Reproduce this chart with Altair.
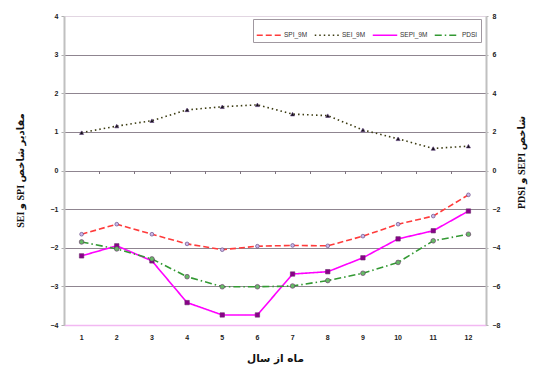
import altair as alt
import pandas as pd

months = list(range(1, 13))
series_names = ["SPI_9M", "SEI_9M", "SEPI_9M", "PDSI"]

# left axis series (SPI, SEI)
spi = [-1.65, -1.39, -1.65, -1.90, -2.05, -1.96, -1.94, -1.95, -1.70, -1.39, -1.18, -0.63]
sei = [0.98, 1.15, 1.29, 1.57, 1.65, 1.70, 1.46, 1.42, 1.05, 0.82, 0.57, 0.63]
# right axis series (SEPI, PDSI)
sepi = [-4.42, -3.90, -4.68, -6.84, -7.48, -7.48, -5.36, -5.24, -4.52, -3.54, -3.12, -2.10]
pdsi = [-3.70, -4.06, -4.58, -5.50, -6.02, -6.02, -5.98, -5.70, -5.32, -4.76, -3.64, -3.30]

line_colors = ["#ff3b3b", "#3a3a10", "#ff00ff", "#339933"]
dashes = [[6, 3], [1.5, 3], [1, 0], [7, 3, 1.5, 3]]
marker_fill = ["#c9b8e8", "#111111", "#8a008a", "#66bb66"]
marker_shape = ["circle", "triangle-up", "square", "circle"]
marker_size = [14, 22, 16, 14]

marker_names = ["m_" + s for s in series_names]

left_df = pd.DataFrame({
    "month": months * 2,
    "value": spi + sei,
    "series": ["SPI_9M"] * 12 + ["SEI_9M"] * 12,
})
right_df = pd.DataFrame({
    "month": months * 2,
    "value": sepi + pdsi,
    "series": ["SEPI_9M"] * 12 + ["PDSI"] * 12,
})
left_df["marker"] = "m_" + left_df["series"]
right_df["marker"] = "m_" + right_df["series"]

FONT = "Liberation Sans"
PFONT = "Liberation Serif, DejaVu Sans"


def xenc(axis):
    return alt.X(
        "month:O",
        sort=months,
        bandPosition=0.5,
        scale=alt.Scale(type="band", paddingInner=0, paddingOuter=0),
        axis=axis,
    )


x_main_axis = alt.Axis(
    title="ماه از سال",
    titleFont="DejaVu Sans", titleFontSize=10.5, titleFontWeight="bold", titleColor="#111",
    titleY=33, titleBaseline="middle",
    labelAngle=0, labelFont=FONT, labelFontSize=7, labelFontWeight="bold",
    labelColor="#222", labelPadding=8,
    ticks=False, domainColor="#f2b8f2", domainWidth=1.5, grid=False,
)
x_tick_axis = alt.Axis(
    orient="bottom", offset=-154.5, labels=False, domain=False, ticks=True,
    tickBand="extent", tickSize=3, tickWidth=1, tickColor="#7f7580", grid=False, title=None,
)

color_enc = alt.Color(
    "series:N",
    scale=alt.Scale(domain=series_names, range=line_colors),
    legend=alt.Legend(
        title=None, orient="none", legendX=189, legendY=3, direction="horizontal",
        columns=4, symbolType="stroke", symbolSize=600, symbolStrokeWidth=1.5,
        labelFont=FONT, labelFontSize=6.5, labelColor="#333", labelOffset=2,
        columnPadding=3, padding=3, strokeColor="#a098a0", fillColor="white",
        symbolOffset=0,
    ),
)
dash_enc = alt.StrokeDash(
    "series:N", scale=alt.Scale(domain=series_names, range=dashes), legend=None
)
fill_enc = alt.Fill(
    "marker:N", scale=alt.Scale(domain=marker_names, range=marker_fill), legend=None
)
shape_enc = alt.Shape(
    "marker:N", scale=alt.Scale(domain=marker_names, range=marker_shape), legend=None
)
size_enc = alt.Size(
    "marker:N", scale=alt.Scale(domain=marker_names, range=marker_size), legend=None
)

left_axis = alt.Axis(
    values=list(range(-4, 5)), format="d",
    title="\u202bمقادیر شاخص SPI و SEI\u202c",
    titleFont=PFONT, titleFontSize=10, titleFontWeight="bold", titleColor="#111",
    titleAngle=270, titleX=-44, titleY=154, titleAlign="center", titleBaseline="middle",
    labelFont=FONT, labelFontSize=7, labelFontWeight="bold", labelColor="#222",
    labelPadding=3,
    tickSize=3, tickColor="#b0b0b0", domainColor="#c0c0c0", domainWidth=2,
    grid=True,
    gridColor={"condition": {"test": "datum.value == 4", "value": "#e2d6e2"}, "value": "#8f8590"},
    gridWidth=1,
)
right_axis = alt.Axis(
    orient="right", values=list(range(-8, 9, 2)), format="d",
    title="\u202bشاخص SEPI و PDSI\u202c",
    titleFont=PFONT, titleFontSize=10, titleFontWeight="bold", titleColor="#111",
    titleAngle=270, titleX=35, titleY=146, titleAlign="center", titleBaseline="middle",
    labelFont=FONT, labelFontSize=7, labelFontWeight="bold", labelColor="#222",
    labelPadding=4,
    tickSize=2, tickColor="#b0b0b0", domainColor="#c0c0c0", domainWidth=2,
    grid=False,
)

yl = alt.Y("value:Q", scale=alt.Scale(domain=[-4, 4], nice=False, zero=False), axis=left_axis)
yr = alt.Y("value:Q", scale=alt.Scale(domain=[-8, 8], nice=False, zero=False), axis=right_axis)
yl_noaxis = alt.Y("value:Q", scale=alt.Scale(domain=[-4, 4], nice=False, zero=False), axis=None)
yr_noaxis = alt.Y("value:Q", scale=alt.Scale(domain=[-8, 8], nice=False, zero=False), axis=None)

left_lines = alt.Chart(left_df).mark_line(strokeWidth=1.6).encode(
    x=xenc(x_main_axis), y=yl, color=color_enc, strokeDash=dash_enc, detail="series:N"
)
left_pts = alt.Chart(left_df).mark_point(filled=True, opacity=1, strokeWidth=0.6).encode(
    x=xenc(x_tick_axis), y=yl_noaxis, fill=fill_enc, shape=shape_enc, size=size_enc,
    stroke=alt.value("#5a3a7a"),
)
right_lines = alt.Chart(right_df).mark_line(strokeWidth=1.6).encode(
    x=xenc(None), y=yr, color=color_enc, strokeDash=dash_enc, detail="series:N"
)
right_pts = alt.Chart(right_df).mark_point(filled=True, opacity=1, strokeWidth=0.6).encode(
    x=xenc(None), y=yr_noaxis, fill=fill_enc, shape=shape_enc, size=size_enc,
    stroke=alt.value("#6a2a6a"),
)

chart = (
    alt.layer(left_lines, left_pts, right_lines, right_pts)
    .resolve_scale(y="independent", x="independent")
    .resolve_axis(y="independent", x="independent")
    .properties(
        width=422, height=309,
        autosize=alt.AutoSizeParams(type="none"),
        padding={"left": 56, "top": 8, "right": 43, "bottom": 41},
        background="white",
    )
    .configure_view(stroke=None)
)

chart.save("out.html", embed_options={"renderer": "svg", "actions": False})
